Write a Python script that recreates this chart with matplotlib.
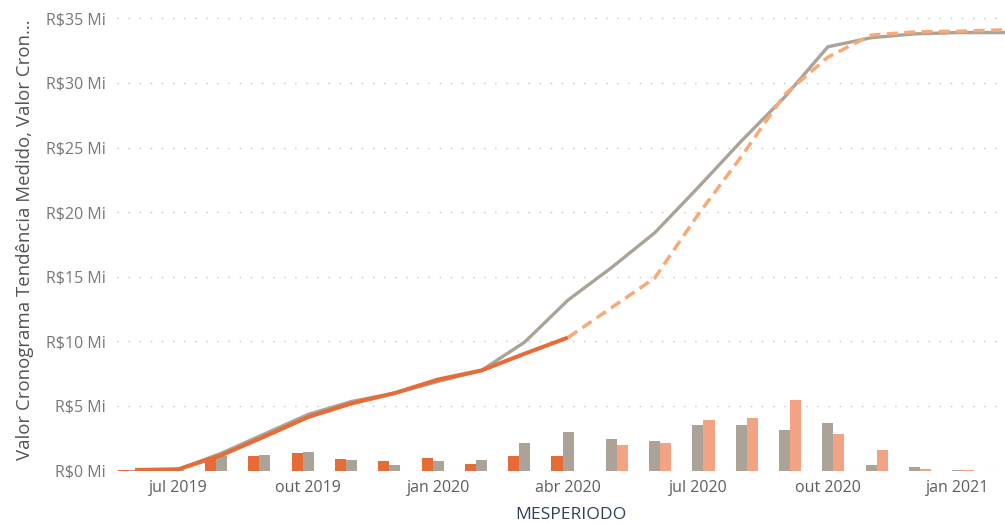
import matplotlib
matplotlib.use("Agg")
import matplotlib.pyplot as plt
import numpy as np

months = ['jun 2019', 'jul 2019', 'ago 2019', 'set 2019', 'out 2019', 'nov 2019',
          'dez 2019', 'jan 2020', 'fev 2020', 'mar 2020', 'abr 2020', 'mai 2020',
          'jun 2020', 'jul 2020', 'ago 2020', 'set 2020', 'out 2020', 'nov 2020',
          'dez 2020', 'jan 2021', 'fev 2021', 'mar 2021']

# cumulative lines (R$ Mi)
tendencia_acum = [0.05, 0.1, 1.35, 2.85, 4.35, 5.35, 6.0, 6.9, 7.75, 9.95, 13.2, 15.7,
                  18.4, 21.9, 25.5, 28.9, 32.8, 33.5, 33.8, 33.9, 33.9, 33.9]
medido_acum = [0.05, 0.1, 1.2, 2.65, 4.15, 5.2, 6.0, 7.05, 7.75, 9.05, 10.3,
               None, None, None, None, None, None, None, None, None, None, None]
projetado_acum = [None, None, None, None, None, None, None, None, None, None, 10.3, 12.6,
                  14.9, 19.8, 24.3, 29.1, 32.0, 33.7, 33.95, 34.0, 34.1, 34.1]

# monthly values (R$ Mi)
medido_mes = [0.05, 0.03, 1.0, 1.16, 1.37, 0.90, 0.72, 1.0, 0.54, 1.16, 1.14,
              None, None, None, None, None, None, None, None, None, None, None]
tendencia_mes = [0.05, 0.03, 1.16, 1.24, 1.47, 0.79, 0.46, 0.72, 0.85, 2.1, 2.97, 2.45,
                 2.32, 3.54, 3.54, 3.15, 3.67, 0.46, 0.26, 0.05, None, None]
projetado_mes = [None, None, None, None, None, None, None, None, None, None, None, 1.99,
                 2.14, 3.95, 4.08, 5.5, 2.84, 1.63, 0.13, 0.03, None, None]

tick_months = ['jul 2019', 'out 2019', 'jan 2020', 'abr 2020', 'jul 2020', 'out 2020', 'jan 2021']
y_ticks = [0, 5, 10, 15, 20, 25, 30, 35]

ORANGE = '#E66C37'
GRAY = '#ABA398'
LIGHT = '#F2A383'
DASH = '#F7A977'
TXT = '#605E5C'

plt.rcParams['font.family'] = ['Open Sans', 'DejaVu Sans']

fig = plt.figure(figsize=(10.05, 5.24), dpi=100)
ax = fig.add_axes([117 / 1005, 53.4 / 524, 1 - 117 / 1005, 1 - 53.4 / 524])

x = np.arange(len(months))

def arr(v):
    return np.array([np.nan if a is None else a for a in v], dtype=float)

w = 0.255
ax.bar(x - w, arr(medido_mes), width=w, color=ORANGE, zorder=2)
ax.bar(x, arr(tendencia_mes), width=w, color=GRAY, zorder=2)
ax.bar(x + w, arr(projetado_mes), width=w, color=LIGHT, zorder=2)

ax.plot(x, arr(tendencia_acum), color=GRAY, lw=2.4, zorder=3, solid_capstyle='butt')
ax.plot(x, arr(medido_acum), color=ORANGE, lw=2.9, zorder=4, solid_capstyle='butt')
ax.plot(x, arr(projetado_acum), color=DASH, lw=2.5, zorder=5, dashes=(3.2, 1.8))

ax.set_xlim(-0.416, 20.09)
ax.set_ylim(0, 36.42)

ax.set_yticks(y_ticks)
ax.set_yticklabels([f'R${v} Mi' for v in y_ticks])
ax.set_xticks([months.index(m) for m in tick_months])
ax.set_xticklabels(tick_months)

ax.tick_params(axis='both', length=0, colors=TXT, labelsize=11.5)
ax.tick_params(axis='y', pad=8)
ax.tick_params(axis='x', pad=7)
for lab in ax.get_yticklabels():
    lab.set_color('#7A7876')

for s in ax.spines.values():
    s.set_visible(False)

ax.grid(axis='y', color='#C4C4C4', lw=1.0, linestyle=(0, (1, 7)), zorder=0)
ax.set_axisbelow(True)

fig.text(25 / 1005, 1 - 240 / 524, 'Valor Cronograma Tendência Medido, Valor Cron...',
         rotation=90, ha='center', va='center', fontsize=13.4, color='#555351')
fig.text(571 / 1005, 1 - 515 / 524, 'MESPERIODO', ha='center', va='center',
         fontsize=12.6, color='#33405A')

fig.savefig('out.png', dpi=100)
